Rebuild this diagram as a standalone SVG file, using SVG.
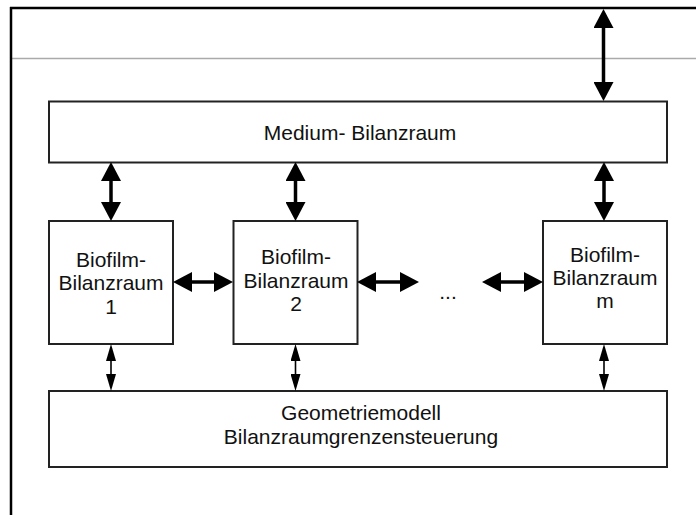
<svg xmlns="http://www.w3.org/2000/svg" width="696" height="515" viewBox="0 0 696 515">
<style>
.box{fill:#fff;stroke:#222;stroke-width:2}
.t{font-family:"Liberation Sans",Arial,sans-serif;font-size:21px;fill:#111;text-anchor:middle}
.big{stroke:#000;stroke-width:3.5;fill:none}
.small{stroke:#000;stroke-width:1.6;fill:none}
</style>
<defs>
<marker id="hb" markerUnits="userSpaceOnUse" viewBox="0 0 19 20" refX="0" refY="10" markerWidth="19" markerHeight="20" orient="auto-start-reverse"><path d="M0,0 L19,10 L0,20 z" fill="#000"/></marker>
<marker id="hs" markerUnits="userSpaceOnUse" viewBox="0 0 17 10" refX="0" refY="5" markerWidth="17" markerHeight="10" orient="auto-start-reverse"><path d="M0,0 L17,5 L0,10 z" fill="#000"/></marker>
</defs>
<rect width="696" height="515" fill="#fff"/>
<g id="frame">
<line x1="12" y1="58.5" x2="696" y2="58.5" stroke="#aaa" stroke-width="1.5"/>
<line x1="10" y1="8" x2="696" y2="8" stroke="#000" stroke-width="2.5"/>
<line x1="11" y1="7" x2="11" y2="515" stroke="#000" stroke-width="2.5"/>
</g>
<g id="medium">
<rect class="box" x="49" y="101.5" width="618" height="61"/>
<text class="t" x="360" y="140">Medium- Bilanzraum</text>
</g>
<g id="biofilm1">
<rect class="box" x="49" y="221" width="124" height="123"/>
<text class="t" x="111" y="267">Biofilm-</text>
<text class="t" x="111" y="290">Bilanzraum</text>
<text class="t" x="111" y="314">1</text>
</g>
<g id="biofilm2">
<rect class="box" x="233.5" y="221" width="124" height="123"/>
<text class="t" x="296" y="263.5">Biofilm-</text>
<text class="t" x="296" y="287.5">Bilanzraum</text>
<text class="t" x="296" y="311">2</text>
</g>
<g id="biofilmm">
<rect class="box" x="543" y="221" width="124" height="123"/>
<text class="t" x="605" y="262">Biofilm-</text>
<text class="t" x="605" y="285">Bilanzraum</text>
<text class="t" x="605" y="308">m</text>
</g>
<g id="dots">
<text class="t" x="448" y="299" fill="#555">...</text>
</g>
<g id="geometrie">
<rect class="box" x="49" y="391" width="618" height="76"/>
<text class="t" x="361" y="420">Geometriemodell</text>
<text class="t" x="361" y="443.5">Bilanzraumgrenzensteuerung</text>
</g>
<g id="connectors">
<line class="big" x1="603.5" y1="28" x2="603.5" y2="82" marker-start="url(#hb)" marker-end="url(#hb)"/>
<line class="big" x1="111" y1="181" x2="111" y2="202" marker-start="url(#hb)" marker-end="url(#hb)"/>
<line class="big" x1="295.5" y1="181" x2="295.5" y2="202" marker-start="url(#hb)" marker-end="url(#hb)"/>
<line class="big" x1="604" y1="181" x2="604" y2="202" marker-start="url(#hb)" marker-end="url(#hb)"/>
<line class="big" x1="192" y1="282" x2="214" y2="282" marker-start="url(#hb)" marker-end="url(#hb)"/>
<line class="big" x1="376" y1="282" x2="400" y2="282" marker-start="url(#hb)" marker-end="url(#hb)"/>
<line class="big" x1="501" y1="282" x2="524" y2="282" marker-start="url(#hb)" marker-end="url(#hb)"/>
<line class="small" x1="111" y1="361" x2="111" y2="374" marker-start="url(#hs)" marker-end="url(#hs)"/>
<line class="small" x1="295.5" y1="361" x2="295.5" y2="374" marker-start="url(#hs)" marker-end="url(#hs)"/>
<line class="small" x1="604" y1="361" x2="604" y2="374" marker-start="url(#hs)" marker-end="url(#hs)"/>
</g>
</svg>
